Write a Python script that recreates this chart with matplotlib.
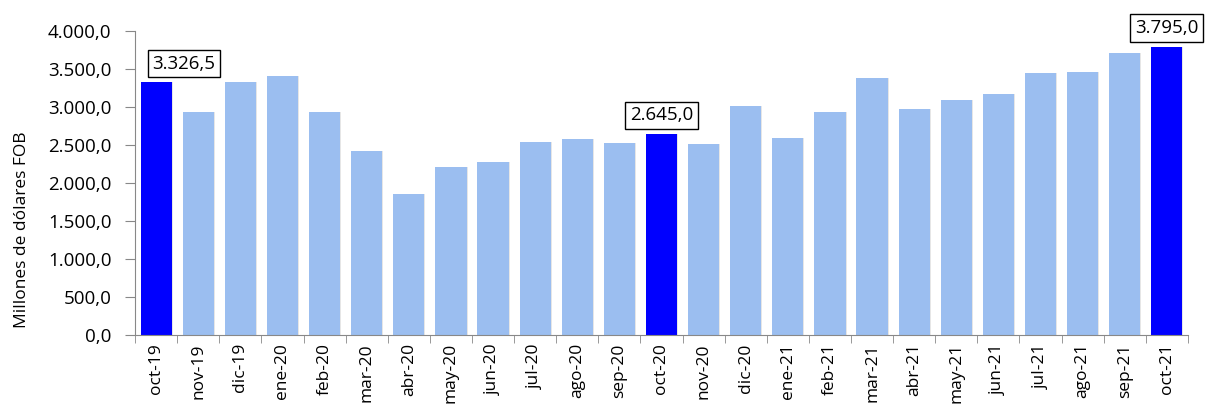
import matplotlib.pyplot as plt
from matplotlib.ticker import FuncFormatter, FixedLocator

meses = ['oct-19', 'nov-19', 'dic-19', 'ene-20', 'feb-20', 'mar-20', 'abr-20',
         'may-20', 'jun-20', 'jul-20', 'ago-20', 'sep-20', 'oct-20', 'nov-20',
         'dic-20', 'ene-21', 'feb-21', 'mar-21', 'abr-21', 'may-21', 'jun-21',
         'jul-21', 'ago-21', 'sep-21', 'oct-21']
valores = [3326.5, 2935, 3325, 3410, 2935, 2428, 1852,
           2208, 2273, 2545, 2580, 2527, 2645.0, 2510,
           3019, 2598, 2935, 3378, 2970, 3089, 3172,
           3444, 3457, 3716, 3795.0]
destacados = ['oct-19', 'oct-20', 'oct-21']

plt.rcParams['font.family'] = ['Open Sans', 'DejaVu Sans']


def fmt_es(v, pos=None):
    s = f"{v:,.1f}"
    return s.replace(',', 'X').replace('.', ',').replace('X', '.')


fig = plt.figure(figsize=(12.06, 4.04), dpi=100)
ax = fig.add_axes([0.112, 0.171, 0.873, 0.752])

x = list(range(len(meses)))
colores = ['#0000FF' if m in destacados else '#9BBEF0' for m in meses]

# sombra suave a la derecha de cada barra
ax.bar([i + 0.025 for i in x], valores, width=0.74, color='#e6e6e6', zorder=1)
ax.bar(x, valores, width=0.74, color=colores, zorder=2)

ax.set_xlim(-0.5, len(meses) - 0.5)
ax.set_ylim(0, 4000)
ax.set_yticks(range(0, 4001, 500))
ax.yaxis.set_major_formatter(FuncFormatter(fmt_es))

ax.set_xticks(x)
ax.set_xticklabels(meses, rotation=90, fontsize=12.5)
ax.tick_params(axis='x', which='major', length=0, pad=6)
ax.xaxis.set_minor_locator(FixedLocator([i - 0.5 for i in range(len(meses) + 1)]))
ax.tick_params(axis='x', which='minor', length=6, color='#888888')
ax.tick_params(axis='y', length=7, color='#888888', labelsize=13.5, pad=10)

ax.spines['top'].set_visible(False)
ax.spines['right'].set_visible(False)
ax.spines['left'].set_color('#888888')
ax.spines['bottom'].set_color('#888888')

ax.set_ylabel('Millones de dólares FOB', fontsize=12.5)
ax.yaxis.set_label_coords(-0.1, 0.345)

for m in destacados:
    i = meses.index(m)
    dx = 20 if i == 0 else 0
    ax.annotate(fmt_es(valores[i]), xy=(i, valores[i]), xytext=(dx, 7),
                textcoords='offset points', ha='center', va='bottom',
                fontsize=13.5,
                bbox=dict(boxstyle='square,pad=0.25', fc='white', ec='black', lw=1),
                annotation_clip=False, zorder=5)

fig.savefig('out.png', dpi=100)
